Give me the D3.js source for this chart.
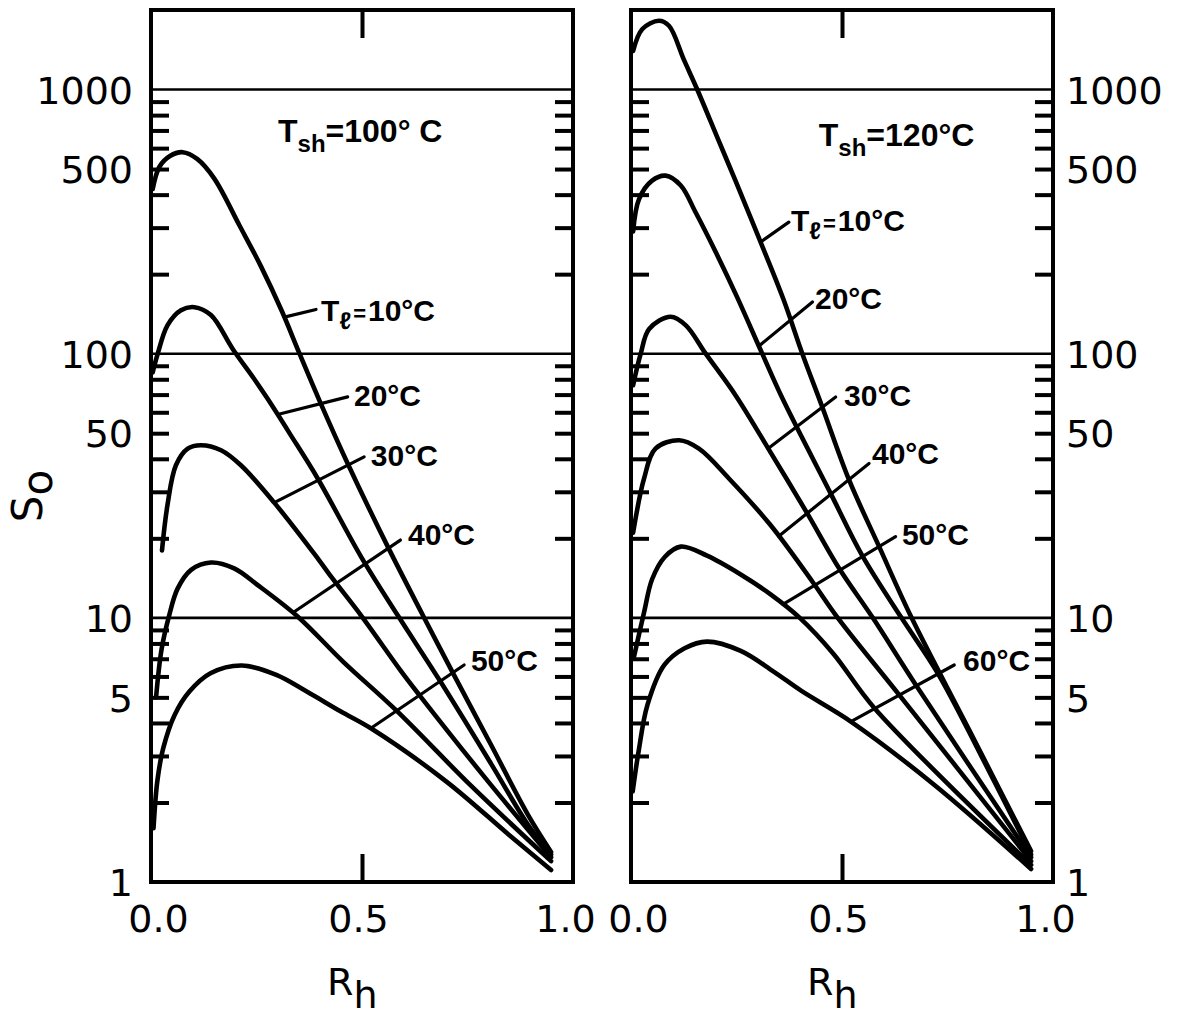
<!DOCTYPE html>
<html><head><meta charset="utf-8">
<script src="https://cdn.jsdelivr.net/npm/d3@7/dist/d3.min.js"></script>
<style>body{margin:0;background:#fff}</style>
</head><body>
<svg id="chart" width="1186" height="1023"></svg>
<script>
// ---------------- DATA ----------------
const yTickValues = [1, 5, 10, 50, 100, 500, 1000];
const yTickLabels = ["1", "5", "10", "50", "100", "500", "1000"];
const xTickValues = [0, 0.5, 1];
const xTickLabels = ["0.0", "0.5", "1.0"];
const gridValues = [10, 100, 1000];
const minorTickValues = [2,3,4,5,6,7,8,9,20,30,40,50,60,70,80,90,200,300,400,500,600,700,800,900];
const xAxisTitle = "R";
const xAxisTitleSub = "h";
const yAxisTitle = "S";
const yAxisTitleSub = "o";

// Left panel: T_sh = 100 °C, curves for T_l = 10..50 °C  [R_h, S_o]
const leftTitle = ["T", "sh", "=100° C"];
const leftSeriesNames = ["10°C", "20°C", "30°C", "40°C", "50°C"];
const left10 = [[0.004,420],[0.02,510],[0.045,560],[0.075,579],[0.11,545],[0.15,460],[0.21,305],[0.26,215],[0.31,145],[0.352,100],[0.40,66],[0.466,38.4],[0.561,18.6],[0.646,10.1],[0.715,6.2],[0.806,3.3],[0.893,1.8],[0.948,1.3]];
const left20 = [[0.004,85],[0.016,100],[0.039,128],[0.071,146],[0.103,150],[0.142,140],[0.194,104],[0.245,80],[0.276,67.6],[0.33,49.5],[0.395,33.7],[0.50,16.8],[0.585,10.2],[0.687,5.7],[0.806,2.8],[0.893,1.65],[0.948,1.27]];
const left30 = [[0.026,18],[0.039,26.7],[0.059,37.8],[0.087,43.7],[0.118,45],[0.166,43.1],[0.213,37.8],[0.292,27.3],[0.395,16.8],[0.43,14.1],[0.498,10.2],[0.592,6.3],[0.636,5.1],[0.79,2.5],[0.948,1.24]];
const left40 = [[0.012,5],[0.025,7.6],[0.043,10.2],[0.063,12.9],[0.095,15.2],[0.142,16.2],[0.197,15.4],[0.253,13.3],[0.348,10.1],[0.455,6.83],[0.58,4.48],[0.76,2.3],[0.948,1.2]];
const left50 = [[0.006,1.6],[0.015,2.41],[0.029,3.21],[0.056,4.29],[0.091,5.26],[0.141,6.17],[0.215,6.6],[0.297,6.08],[0.369,5.26],[0.45,4.42],[0.521,3.82],[0.70,2.4],[0.85,1.5],[0.948,1.11]];

// Right panel: T_sh = 120 °C, curves for T_l = 10..60 °C
const rightTitle = ["T", "sh", "=120°C"];
const rightSeriesNames = ["10°C", "20°C", "30°C", "40°C", "50°C", "60°C"];
const right10 = [[0.005,1400],[0.027,1694],[0.066,1820],[0.09,1743],[0.125,1300],[0.157,1000],[0.206,650],[0.249,446],[0.304,272],[0.361,161],[0.406,100],[0.453,63],[0.517,33.2],[0.588,18.6],[0.665,10],[0.80,3.8],[0.948,1.31]];
const right20 = [[0.005,290],[0.019,385],[0.05,452],[0.082,472],[0.118,433],[0.153,343],[0.201,242],[0.252,163],[0.311,100],[0.359,67.6],[0.473,29.6],[0.548,17.2],[0.641,10],[0.727,6.17],[0.85,2.6],[0.948,1.27]];
const right30 = [[0.005,76],[0.023,100],[0.043,124],[0.094,138],[0.13,128],[0.177,100],[0.248,69.5],[0.33,42.5],[0.418,24.8],[0.493,15.4],[0.573,10],[0.675,5.57],[0.948,1.24]];
const right40 = [[0.005,21],[0.031,33.7],[0.058,43.7],[0.114,47],[0.161,43.7],[0.232,33.7],[0.33,22.5],[0.43,13.7],[0.49,10],[0.636,5.1],[0.948,1.2]];
const right50 = [[0.006,7],[0.031,10.5],[0.05,14],[0.08,17],[0.118,18.6],[0.18,17.2],[0.26,14.6],[0.33,12.3],[0.40,10],[0.48,7.3],[0.577,4.55],[0.948,1.16]];
const right60 = [[0.004,2.2],[0.018,3.12],[0.039,4.68],[0.079,6.63],[0.127,7.67],[0.18,8.13],[0.26,7.5],[0.338,6.26],[0.403,5.3],[0.521,4.05],[0.719,2.33],[0.948,1.12]];

// ---------------- LAYOUT (annotation placement, in data units) ----------------
const leftLayout = {
  x0: 151,
  title: {r: 0.301, s: 633},
  leaders: [ {r0:0.316, r1:0.391, s1:147}, {r0:0.300, r1:0.466, s1:68.6}, {r0:0.292, r1:0.505, s1:40.7}, {r0:0.336, r1:0.591, s1:19.7}, {r0:0.521, r1:0.742, s1:6.63} ],
  labels: [ {r:0.403, s:133.3}, {r:0.481, s:63.6}, {r:0.521, s:37.7}, {r:0.609, s:18.8}, {r:0.758, s:6.28} ]
};
const rightLayout = {
  x0: 631,
  title: {r: 0.445, s: 611.6},
  leaders: [ {r0:0.307, r1:0.374, s1:314.8}, {r0:0.303, r1:0.430, s1:156.9}, {r0:0.325, r1:0.485, s1:68.6}, {r0:0.35, r1:0.564, s1:38.4}, {r0:0.36, r1:0.627, s1:20.3}, {r0:0.521, r1:0.766, s1:6.63} ],
  labels: [ {r:0.379, s:291.8}, {r:0.436, s:148}, {r:0.505, s:63.6}, {r:0.571, s:38.1}, {r:0.642, s:18.95}, {r:0.787, s:6.28} ]
};

// ---------------- DRAW ----------------
const svg = d3.select("#chart");
const W = 422;
const y = d3.scaleLog().domain([1, 2000]).range([882, 10]);
const TICK_FONT = "DejaVu Sans, sans-serif";
const ANN_FONT = "Liberation Sans, Arial, sans-serif";

function sAt(series, r) {
  for (let i = 0; i < series.length - 1; i++) {
    const a = series[i], b = series[i + 1];
    if (r >= a[0] && r <= b[0]) {
      const t = (r - a[0]) / (b[0] - a[0]);
      return Math.pow(10, Math.log10(a[1]) + t * (Math.log10(b[1]) - Math.log10(a[1])));
    }
  }
  return series[series.length - 1][1];
}

function drawPanel(series, names, title, layout, side) {
  const x = d3.scaleLinear().domain([0, 1]).range([layout.x0, layout.x0 + W]);
  const g = svg.append("g");

  // decade grid lines
  g.append("g").selectAll("line").data(gridValues).join("line")
    .attr("x1", x(0)).attr("x2", x(1))
    .attr("y1", d => y(d)).attr("y2", d => y(d))
    .attr("stroke", "#000").attr("stroke-width", 2.6);

  // inward minor ticks on both frame sides
  const tl = g.append("g").attr("transform", `translate(${x(0)},0)`)
    .call(d3.axisRight(y).tickValues(minorTickValues).tickSize(18).tickFormat(""));
  const tr = g.append("g").attr("transform", `translate(${x(1)},0)`)
    .call(d3.axisLeft(y).tickValues(minorTickValues).tickSize(18).tickFormat(""));
  // x tick at 0.5, top and bottom, inward
  const xb = g.append("g").attr("transform", `translate(0,${y(1)})`)
    .call(d3.axisTop(x).tickValues([0.5]).tickSize(28).tickFormat(""));
  const xt = g.append("g").attr("transform", `translate(0,${y(2000)})`)
    .call(d3.axisBottom(x).tickValues([0.5]).tickSize(28).tickFormat(""));
  [tl, tr, xb, xt].forEach(a => {
    a.select(".domain").remove();
    a.selectAll(".tick line").attr("stroke", "#000").attr("stroke-width", 4);
  });

  // frame
  g.append("rect").attr("x", x(0)).attr("y", y(2000))
    .attr("width", W).attr("height", y(1) - y(2000))
    .attr("fill", "none").attr("stroke", "#000").attr("stroke-width", 4);

  // x tick labels
  const nudge = [7, -4, -8];
  const xl = g.append("g").attr("transform", `translate(0,${y(1)})`)
    .call(d3.axisBottom(x).tickValues(xTickValues).tickSize(0).tickPadding(23)
      .tickFormat((d, i) => xTickLabels[i]));
  xl.select(".domain").remove();
  xl.selectAll("text").attr("font-family", TICK_FONT).attr("font-size", 38)
    .attr("fill", "#000").attr("dx", (d, i) => nudge[i]);

  // y tick labels (outer side)
  const yAxis = side === "left"
    ? d3.axisLeft(y).tickValues(yTickValues).tickSize(0).tickPadding(18)
    : d3.axisRight(y).tickValues(yTickValues).tickSize(0).tickPadding(13);
  const yl = g.append("g").attr("transform", `translate(${side === "left" ? x(0) : x(1)},0)`)
    .call(yAxis.tickFormat((d, i) => yTickLabels[i]));
  yl.select(".domain").remove();
  yl.selectAll("text").attr("font-family", TICK_FONT).attr("font-size", 38)
    .attr("fill", "#000").attr("dy", "0.36em");

  // x axis title R_h
  const xt2 = g.append("text").attr("x", x(0.5) - 35).attr("y", 995)
    .attr("font-family", TICK_FONT).attr("font-size", 38).attr("fill", "#000");
  xt2.append("tspan").text(xAxisTitle);
  xt2.append("tspan").attr("dy", 13).text(xAxisTitleSub);

  // curves
  const line = d3.line().x(d => x(d[0])).y(d => y(d[1])).curve(d3.curveCatmullRom.alpha(0.5));
  g.append("g").selectAll("path").data(series).join("path")
    .attr("d", line).attr("fill", "none").attr("stroke", "#000")
    .attr("stroke-width", 4.6).attr("stroke-linejoin", "round").attr("stroke-linecap", "round");

  // leaders
  g.append("g").selectAll("line").data(layout.leaders).join("line")
    .attr("x1", d => x(d.r0)).attr("y1", (d, i) => y(sAt(series[i], d.r0)))
    .attr("x2", d => x(d.r1)).attr("y2", d => y(d.s1))
    .attr("stroke", "#000").attr("stroke-width", 3.2).attr("stroke-linecap", "round");

  // series labels
  layout.labels.forEach((p, i) => {
    const t = g.append("text").attr("x", x(p.r)).attr("y", y(p.s))
      .attr("font-family", ANN_FONT).attr("font-weight", "bold")
      .attr("font-size", 30).attr("fill", "#000");
    if (i === 0) {
      t.append("tspan").text("T");
      t.append("tspan").attr("dy", 8).attr("font-size", 24).text("ℓ");
      t.append("tspan").attr("dy", -8).attr("dx", 2).attr("font-size", 22).text("=");
      t.append("tspan").attr("dx", 2).text(names[i]);
    } else {
      t.text(names[i]);
    }
  });

  // panel title T_sh
  const tt = g.append("text").attr("x", x(layout.title.r)).attr("y", y(layout.title.s))
    .attr("font-family", ANN_FONT).attr("font-weight", "bold")
    .attr("font-size", 32).attr("fill", "#000");
  tt.append("tspan").text(title[0]);
  tt.append("tspan").attr("dy", 10).attr("font-size", 24).text(title[1]);
  tt.append("tspan").attr("dy", -10).text(title[2]);
}

drawPanel([left10, left20, left30, left40, left50], leftSeriesNames, leftTitle, leftLayout, "left");
drawPanel([right10, right20, right30, right40, right50, right60], rightSeriesNames, rightTitle, rightLayout, "right");

// y axis title S_o (rotated)
const yt = svg.append("text").attr("transform", "translate(42,496) rotate(-90)")
  .attr("text-anchor", "middle").attr("font-family", TICK_FONT)
  .attr("font-size", 42).attr("fill", "#000");
yt.append("tspan").text(yAxisTitle);
yt.append("tspan").attr("dy", 10).text(yAxisTitleSub);
</script>
</body></html>
